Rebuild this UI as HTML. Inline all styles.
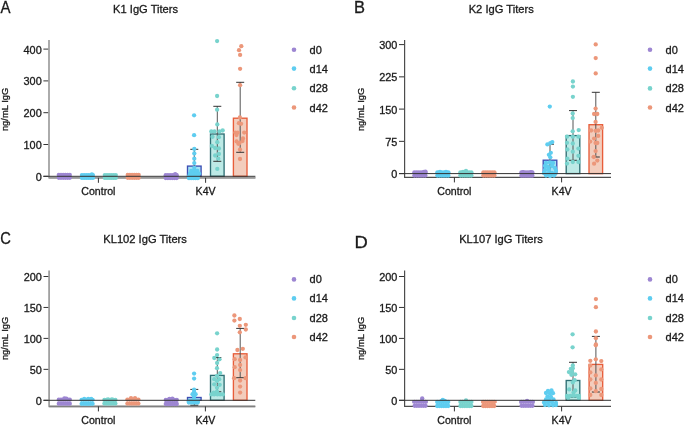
<!DOCTYPE html>
<html><head><meta charset="utf-8"><style>
html,body{margin:0;padding:0;background:#fff;width:685px;height:425px;overflow:hidden}
svg{display:block;font-family:"Liberation Sans", sans-serif;will-change:transform} text{stroke:#1a1a1a;stroke-width:0.3px}
</style></head><body>
<svg width="685" height="425" viewBox="0 0 685 425">
<text x="0.4" y="12.6" font-size="16" fill="#1a1a1a" transform="translate(0.4,12.6) scale(0.94,1) translate(-0.4,-12.6)">A</text>
<text x="145.6" y="13.1" font-size="11.15" text-anchor="middle" fill="#1a1a1a">K1 IgG Titers</text>
<text transform="translate(7.7,109.4) rotate(-90)" font-size="9.4" text-anchor="middle" fill="#1a1a1a">ng/mL IgG</text>
<line x1="43.4" y1="176.30" x2="49.0" y2="176.30" stroke="#333" stroke-width="1"/>
<text x="41.7" y="180.80" font-size="10.9" text-anchor="end" fill="#1a1a1a">0</text>
<line x1="43.4" y1="144.50" x2="49.0" y2="144.50" stroke="#333" stroke-width="1"/>
<text x="41.7" y="149.00" font-size="10.9" text-anchor="end" fill="#1a1a1a">100</text>
<line x1="43.4" y1="112.70" x2="49.0" y2="112.70" stroke="#333" stroke-width="1"/>
<text x="41.7" y="117.20" font-size="10.9" text-anchor="end" fill="#1a1a1a">200</text>
<line x1="43.4" y1="80.90" x2="49.0" y2="80.90" stroke="#333" stroke-width="1"/>
<text x="41.7" y="85.40" font-size="10.9" text-anchor="end" fill="#1a1a1a">300</text>
<line x1="43.4" y1="49.10" x2="49.0" y2="49.10" stroke="#333" stroke-width="1"/>
<text x="41.7" y="53.60" font-size="10.9" text-anchor="end" fill="#1a1a1a">400</text>
<path d="M49.0,40 L49.0,177.8 L255.4,177.8" fill="none" stroke="#a3a3a3" stroke-width="1.8" stroke-linejoin="round"/>
<line x1="49.0" y1="177.8" x2="255.4" y2="177.8" stroke="#999999" stroke-width="1.6"/>
<line x1="98.4" y1="177.8" x2="98.4" y2="182.8" stroke="#333" stroke-width="1"/>
<text x="98.4" y="195.0" font-size="10.6" text-anchor="middle" fill="#1a1a1a">Control</text>
<line x1="205.6" y1="177.8" x2="205.6" y2="182.8" stroke="#333" stroke-width="1"/>
<text x="205.6" y="195.0" font-size="10.6" text-anchor="middle" fill="#1a1a1a">K4V</text>
<rect x="187.5" y="166.1" width="13.6" height="10.200000000000017" fill="#a6e3f5" stroke="#3d4fb4" stroke-width="1.35"/>
<rect x="210.5" y="134.0" width="13.6" height="42.30000000000001" fill="#bdeae6" stroke="#2f6f74" stroke-width="1.35"/>
<rect x="233.39999999999998" y="118.2" width="13.6" height="58.10000000000001" fill="#f3cdbd" stroke="#e85d3a" stroke-width="1.35"/>
<line x1="194.3" y1="149.3" x2="194.3" y2="176.3" stroke="#555" stroke-width="1"/>
<line x1="190.3" y1="149.3" x2="198.3" y2="149.3" stroke="#333" stroke-width="1"/>
<line x1="217.3" y1="106.3" x2="217.3" y2="161.3" stroke="#555" stroke-width="1"/>
<line x1="213.3" y1="106.3" x2="221.3" y2="106.3" stroke="#333" stroke-width="1"/>
<line x1="213.3" y1="161.3" x2="221.3" y2="161.3" stroke="#333" stroke-width="1"/>
<line x1="240.2" y1="82.3" x2="240.2" y2="152.3" stroke="#555" stroke-width="1"/>
<line x1="236.2" y1="82.3" x2="244.2" y2="82.3" stroke="#333" stroke-width="1"/>
<line x1="236.2" y1="152.3" x2="244.2" y2="152.3" stroke="#333" stroke-width="1"/>
<circle cx="58.8" cy="175.0" r="2.15" fill="#9d86d2"/>
<circle cx="61.0" cy="175.0" r="2.15" fill="#9d86d2"/>
<circle cx="63.2" cy="175.0" r="2.15" fill="#9d86d2"/>
<circle cx="65.4" cy="175.0" r="2.15" fill="#9d86d2"/>
<circle cx="67.6" cy="175.0" r="2.15" fill="#9d86d2"/>
<circle cx="69.8" cy="175.0" r="2.15" fill="#9d86d2"/>
<circle cx="58.8" cy="177.8" r="2.15" fill="#9d86d2"/>
<circle cx="61.0" cy="177.8" r="2.15" fill="#9d86d2"/>
<circle cx="63.2" cy="177.8" r="2.15" fill="#9d86d2"/>
<circle cx="65.4" cy="177.8" r="2.15" fill="#9d86d2"/>
<circle cx="67.6" cy="177.8" r="2.15" fill="#9d86d2"/>
<circle cx="69.8" cy="177.8" r="2.15" fill="#9d86d2"/>
<circle cx="165.7" cy="175.2" r="2.15" fill="#9d86d2"/>
<circle cx="167.9" cy="175.2" r="2.15" fill="#9d86d2"/>
<circle cx="170.1" cy="175.2" r="2.15" fill="#9d86d2"/>
<circle cx="172.3" cy="175.2" r="2.15" fill="#9d86d2"/>
<circle cx="174.5" cy="175.2" r="2.15" fill="#9d86d2"/>
<circle cx="176.7" cy="175.2" r="2.15" fill="#9d86d2"/>
<circle cx="165.7" cy="178.0" r="2.15" fill="#9d86d2"/>
<circle cx="167.9" cy="178.0" r="2.15" fill="#9d86d2"/>
<circle cx="170.1" cy="178.0" r="2.15" fill="#9d86d2"/>
<circle cx="172.3" cy="178.0" r="2.15" fill="#9d86d2"/>
<circle cx="174.5" cy="178.0" r="2.15" fill="#9d86d2"/>
<circle cx="176.7" cy="178.0" r="2.15" fill="#9d86d2"/>
<circle cx="175.2" cy="174.1" r="2.15" fill="#9d86d2"/>
<circle cx="176.2" cy="175.1" r="2.15" fill="#9d86d2"/>
<circle cx="81.9" cy="175.1" r="2.15" fill="#5ecdf0"/>
<circle cx="84.1" cy="175.1" r="2.15" fill="#5ecdf0"/>
<circle cx="86.3" cy="175.1" r="2.15" fill="#5ecdf0"/>
<circle cx="88.5" cy="175.1" r="2.15" fill="#5ecdf0"/>
<circle cx="90.7" cy="175.1" r="2.15" fill="#5ecdf0"/>
<circle cx="92.9" cy="175.1" r="2.15" fill="#5ecdf0"/>
<circle cx="81.9" cy="177.9" r="2.15" fill="#5ecdf0"/>
<circle cx="84.1" cy="177.9" r="2.15" fill="#5ecdf0"/>
<circle cx="86.3" cy="177.9" r="2.15" fill="#5ecdf0"/>
<circle cx="88.5" cy="177.9" r="2.15" fill="#5ecdf0"/>
<circle cx="90.7" cy="177.9" r="2.15" fill="#5ecdf0"/>
<circle cx="92.9" cy="177.9" r="2.15" fill="#5ecdf0"/>
<circle cx="91.9" cy="174.5" r="2.15" fill="#5ecdf0"/>
<circle cx="194.1" cy="115.3" r="2.15" fill="#5ecdf0"/>
<circle cx="194.1" cy="135.2" r="2.15" fill="#5ecdf0"/>
<circle cx="194.3" cy="148.9" r="2.15" fill="#5ecdf0"/>
<circle cx="194.3" cy="153.5" r="2.15" fill="#5ecdf0"/>
<circle cx="194.3" cy="158.7" r="2.15" fill="#5ecdf0"/>
<circle cx="194.3" cy="163.1" r="2.15" fill="#5ecdf0"/>
<circle cx="194.3" cy="167.8" r="2.15" fill="#5ecdf0"/>
<circle cx="191.2" cy="171" r="2.15" fill="#5ecdf0"/>
<circle cx="194.3" cy="170.2" r="2.15" fill="#5ecdf0"/>
<circle cx="197.4" cy="171" r="2.15" fill="#5ecdf0"/>
<circle cx="190" cy="173.6" r="2.15" fill="#5ecdf0"/>
<circle cx="193" cy="173.2" r="2.15" fill="#5ecdf0"/>
<circle cx="196" cy="173.2" r="2.15" fill="#5ecdf0"/>
<circle cx="199" cy="173.6" r="2.15" fill="#5ecdf0"/>
<circle cx="189.0" cy="176.2" r="2.15" fill="#5ecdf0"/>
<circle cx="191.2" cy="176.2" r="2.15" fill="#5ecdf0"/>
<circle cx="193.4" cy="176.2" r="2.15" fill="#5ecdf0"/>
<circle cx="195.6" cy="176.2" r="2.15" fill="#5ecdf0"/>
<circle cx="197.8" cy="176.2" r="2.15" fill="#5ecdf0"/>
<circle cx="189.0" cy="178.2" r="2.15" fill="#5ecdf0"/>
<circle cx="191.2" cy="178.2" r="2.15" fill="#5ecdf0"/>
<circle cx="193.4" cy="178.2" r="2.15" fill="#5ecdf0"/>
<circle cx="195.6" cy="178.2" r="2.15" fill="#5ecdf0"/>
<circle cx="197.8" cy="178.2" r="2.15" fill="#5ecdf0"/>
<circle cx="104.8" cy="175.1" r="2.15" fill="#78d3cd"/>
<circle cx="107.0" cy="175.1" r="2.15" fill="#78d3cd"/>
<circle cx="109.2" cy="175.1" r="2.15" fill="#78d3cd"/>
<circle cx="111.4" cy="175.1" r="2.15" fill="#78d3cd"/>
<circle cx="113.6" cy="175.1" r="2.15" fill="#78d3cd"/>
<circle cx="115.8" cy="175.1" r="2.15" fill="#78d3cd"/>
<circle cx="104.8" cy="177.9" r="2.15" fill="#78d3cd"/>
<circle cx="107.0" cy="177.9" r="2.15" fill="#78d3cd"/>
<circle cx="109.2" cy="177.9" r="2.15" fill="#78d3cd"/>
<circle cx="111.4" cy="177.9" r="2.15" fill="#78d3cd"/>
<circle cx="113.6" cy="177.9" r="2.15" fill="#78d3cd"/>
<circle cx="115.8" cy="177.9" r="2.15" fill="#78d3cd"/>
<circle cx="217.1" cy="41.1" r="2.15" fill="#78d3cd"/>
<circle cx="217.1" cy="96" r="2.15" fill="#78d3cd"/>
<circle cx="217.1" cy="109.7" r="2.15" fill="#78d3cd"/>
<circle cx="217.3" cy="124.4" r="2.15" fill="#78d3cd"/>
<circle cx="211.3" cy="131.4" r="2.15" fill="#78d3cd"/>
<circle cx="214.5" cy="131.4" r="2.15" fill="#78d3cd"/>
<circle cx="219.5" cy="131.4" r="2.15" fill="#78d3cd"/>
<circle cx="222.7" cy="130.5" r="2.15" fill="#78d3cd"/>
<circle cx="212.5" cy="136.8" r="2.15" fill="#78d3cd"/>
<circle cx="218.9" cy="137.2" r="2.15" fill="#78d3cd"/>
<circle cx="217.3" cy="142.2" r="2.15" fill="#78d3cd"/>
<circle cx="211.9" cy="146" r="2.15" fill="#78d3cd"/>
<circle cx="215.1" cy="148" r="2.15" fill="#78d3cd"/>
<circle cx="218.9" cy="148.5" r="2.15" fill="#78d3cd"/>
<circle cx="215.1" cy="155.5" r="2.15" fill="#78d3cd"/>
<circle cx="218.9" cy="154" r="2.15" fill="#78d3cd"/>
<circle cx="218.3" cy="158.7" r="2.15" fill="#78d3cd"/>
<circle cx="217.3" cy="168.9" r="2.15" fill="#78d3cd"/>
<circle cx="127.7" cy="175.0" r="2.15" fill="#ec977a"/>
<circle cx="129.9" cy="175.0" r="2.15" fill="#ec977a"/>
<circle cx="132.1" cy="175.0" r="2.15" fill="#ec977a"/>
<circle cx="134.3" cy="175.0" r="2.15" fill="#ec977a"/>
<circle cx="136.5" cy="175.0" r="2.15" fill="#ec977a"/>
<circle cx="138.7" cy="175.0" r="2.15" fill="#ec977a"/>
<circle cx="127.7" cy="177.8" r="2.15" fill="#ec977a"/>
<circle cx="129.9" cy="177.8" r="2.15" fill="#ec977a"/>
<circle cx="132.1" cy="177.8" r="2.15" fill="#ec977a"/>
<circle cx="134.3" cy="177.8" r="2.15" fill="#ec977a"/>
<circle cx="136.5" cy="177.8" r="2.15" fill="#ec977a"/>
<circle cx="138.7" cy="177.8" r="2.15" fill="#ec977a"/>
<circle cx="241.3" cy="46.2" r="2.15" fill="#ec977a"/>
<circle cx="239" cy="50.2" r="2.15" fill="#ec977a"/>
<circle cx="240.1" cy="54.9" r="2.15" fill="#ec977a"/>
<circle cx="240.1" cy="68.8" r="2.15" fill="#ec977a"/>
<circle cx="240.1" cy="85.2" r="2.15" fill="#ec977a"/>
<circle cx="239.9" cy="117.5" r="2.15" fill="#ec977a"/>
<circle cx="238.9" cy="123.2" r="2.15" fill="#ec977a"/>
<circle cx="241.1" cy="123.8" r="2.15" fill="#ec977a"/>
<circle cx="235.4" cy="132.6" r="2.15" fill="#ec977a"/>
<circle cx="237.8" cy="132.6" r="2.15" fill="#ec977a"/>
<circle cx="244.2" cy="132.6" r="2.15" fill="#ec977a"/>
<circle cx="236.5" cy="135" r="2.15" fill="#ec977a"/>
<circle cx="243" cy="138.5" r="2.15" fill="#ec977a"/>
<circle cx="236.6" cy="141.4" r="2.15" fill="#ec977a"/>
<circle cx="239.5" cy="143" r="2.15" fill="#ec977a"/>
<circle cx="242.5" cy="141" r="2.15" fill="#ec977a"/>
<circle cx="238.4" cy="143.8" r="2.15" fill="#ec977a"/>
<circle cx="240" cy="149.6" r="2.15" fill="#ec977a"/>
<circle cx="240" cy="159" r="2.15" fill="#ec977a"/>
<line x1="43.4" y1="176.3" x2="255.4" y2="176.3" stroke="#333" stroke-width="1"/>
<circle cx="294" cy="49.7" r="2.3" fill="#9d86d2"/>
<text x="309.6" y="53.7" font-size="11" fill="#1a1a1a">d0</text>
<circle cx="294" cy="68.6" r="2.3" fill="#5ecdf0"/>
<text x="309.6" y="72.6" font-size="11" fill="#1a1a1a">d14</text>
<circle cx="294" cy="88.2" r="2.3" fill="#78d3cd"/>
<text x="309.6" y="92.2" font-size="11" fill="#1a1a1a">d28</text>
<circle cx="294" cy="107.5" r="2.3" fill="#ec977a"/>
<text x="309.6" y="111.5" font-size="11" fill="#1a1a1a">d42</text>
<text x="353.9" y="12.6" font-size="16" fill="#1a1a1a" transform="translate(353.9,12.6) scale(1.03,1) translate(-353.9,-12.6)">B</text>
<text x="501.2" y="13.3" font-size="11.15" text-anchor="middle" fill="#1a1a1a">K2 IgG Titers</text>
<text transform="translate(363.7,109.4) rotate(-90)" font-size="9.4" text-anchor="middle" fill="#1a1a1a">ng/mL IgG</text>
<line x1="399.0" y1="173.60" x2="404.6" y2="173.60" stroke="#333" stroke-width="1"/>
<text x="397.3" y="178.10" font-size="10.9" text-anchor="end" fill="#1a1a1a">0</text>
<line x1="399.0" y1="141.35" x2="404.6" y2="141.35" stroke="#333" stroke-width="1"/>
<text x="397.3" y="145.85" font-size="10.9" text-anchor="end" fill="#1a1a1a">75</text>
<line x1="399.0" y1="109.10" x2="404.6" y2="109.10" stroke="#333" stroke-width="1"/>
<text x="397.3" y="113.60" font-size="10.9" text-anchor="end" fill="#1a1a1a">150</text>
<line x1="399.0" y1="76.85" x2="404.6" y2="76.85" stroke="#333" stroke-width="1"/>
<text x="397.3" y="81.35" font-size="10.9" text-anchor="end" fill="#1a1a1a">225</text>
<line x1="399.0" y1="44.60" x2="404.6" y2="44.60" stroke="#333" stroke-width="1"/>
<text x="397.3" y="49.10" font-size="10.9" text-anchor="end" fill="#1a1a1a">300</text>
<path d="M404.6,40 L404.6,177.4 L611,177.4" fill="none" stroke="#4d4d4d" stroke-width="1.2" stroke-linejoin="round"/>
<line x1="454.4" y1="177.4" x2="454.4" y2="182.4" stroke="#333" stroke-width="1"/>
<text x="454.4" y="194.6" font-size="10.6" text-anchor="middle" fill="#1a1a1a">Control</text>
<line x1="561.6" y1="177.4" x2="561.6" y2="182.4" stroke="#333" stroke-width="1"/>
<text x="561.6" y="194.6" font-size="10.6" text-anchor="middle" fill="#1a1a1a">K4V</text>
<rect x="543.2" y="160.2" width="13.6" height="13.400000000000006" fill="#a6e3f5" stroke="#3d4fb4" stroke-width="1.35"/>
<rect x="566.2" y="135.6" width="13.6" height="38.0" fill="#bdeae6" stroke="#2f6f74" stroke-width="1.35"/>
<rect x="589.0" y="124.7" width="13.6" height="48.89999999999999" fill="#f3cdbd" stroke="#e85d3a" stroke-width="1.35"/>
<line x1="550.0" y1="144.2" x2="550.0" y2="175.3" stroke="#555" stroke-width="1"/>
<line x1="546.0" y1="144.2" x2="554.0" y2="144.2" stroke="#333" stroke-width="1"/>
<line x1="546.0" y1="175.3" x2="554.0" y2="175.3" stroke="#333" stroke-width="1"/>
<line x1="573.0" y1="110.6" x2="573.0" y2="160.3" stroke="#555" stroke-width="1"/>
<line x1="569.0" y1="110.6" x2="577.0" y2="110.6" stroke="#333" stroke-width="1"/>
<line x1="569.0" y1="160.3" x2="577.0" y2="160.3" stroke="#333" stroke-width="1"/>
<line x1="595.8" y1="92.3" x2="595.8" y2="157.0" stroke="#555" stroke-width="1"/>
<line x1="591.8" y1="92.3" x2="599.8" y2="92.3" stroke="#333" stroke-width="1"/>
<line x1="591.8" y1="157.0" x2="599.8" y2="157.0" stroke="#333" stroke-width="1"/>
<circle cx="414.4" cy="172.3" r="2.15" fill="#9d86d2"/>
<circle cx="416.6" cy="172.3" r="2.15" fill="#9d86d2"/>
<circle cx="418.8" cy="172.3" r="2.15" fill="#9d86d2"/>
<circle cx="421.0" cy="172.3" r="2.15" fill="#9d86d2"/>
<circle cx="423.2" cy="172.3" r="2.15" fill="#9d86d2"/>
<circle cx="425.4" cy="172.3" r="2.15" fill="#9d86d2"/>
<circle cx="414.4" cy="175.5" r="2.15" fill="#9d86d2"/>
<circle cx="416.6" cy="175.5" r="2.15" fill="#9d86d2"/>
<circle cx="418.8" cy="175.5" r="2.15" fill="#9d86d2"/>
<circle cx="421.0" cy="175.5" r="2.15" fill="#9d86d2"/>
<circle cx="423.2" cy="175.5" r="2.15" fill="#9d86d2"/>
<circle cx="425.4" cy="175.5" r="2.15" fill="#9d86d2"/>
<circle cx="424.0" cy="171.9" r="2.15" fill="#9d86d2"/>
<circle cx="425.5" cy="171.70000000000002" r="2.15" fill="#9d86d2"/>
<circle cx="521.4" cy="172.5" r="2.15" fill="#9d86d2"/>
<circle cx="523.6" cy="172.5" r="2.15" fill="#9d86d2"/>
<circle cx="525.8" cy="172.5" r="2.15" fill="#9d86d2"/>
<circle cx="528.0" cy="172.5" r="2.15" fill="#9d86d2"/>
<circle cx="530.2" cy="172.5" r="2.15" fill="#9d86d2"/>
<circle cx="532.4" cy="172.5" r="2.15" fill="#9d86d2"/>
<circle cx="521.4" cy="175.7" r="2.15" fill="#9d86d2"/>
<circle cx="523.6" cy="175.7" r="2.15" fill="#9d86d2"/>
<circle cx="525.8" cy="175.7" r="2.15" fill="#9d86d2"/>
<circle cx="528.0" cy="175.7" r="2.15" fill="#9d86d2"/>
<circle cx="530.2" cy="175.7" r="2.15" fill="#9d86d2"/>
<circle cx="532.4" cy="175.7" r="2.15" fill="#9d86d2"/>
<circle cx="523.0" cy="172.1" r="2.15" fill="#9d86d2"/>
<circle cx="531.0" cy="172.1" r="2.15" fill="#9d86d2"/>
<circle cx="437.4" cy="172.3" r="2.15" fill="#5ecdf0"/>
<circle cx="439.6" cy="172.3" r="2.15" fill="#5ecdf0"/>
<circle cx="441.8" cy="172.3" r="2.15" fill="#5ecdf0"/>
<circle cx="444.0" cy="172.3" r="2.15" fill="#5ecdf0"/>
<circle cx="446.2" cy="172.3" r="2.15" fill="#5ecdf0"/>
<circle cx="448.4" cy="172.3" r="2.15" fill="#5ecdf0"/>
<circle cx="437.4" cy="175.5" r="2.15" fill="#5ecdf0"/>
<circle cx="439.6" cy="175.5" r="2.15" fill="#5ecdf0"/>
<circle cx="441.8" cy="175.5" r="2.15" fill="#5ecdf0"/>
<circle cx="444.0" cy="175.5" r="2.15" fill="#5ecdf0"/>
<circle cx="446.2" cy="175.5" r="2.15" fill="#5ecdf0"/>
<circle cx="448.4" cy="175.5" r="2.15" fill="#5ecdf0"/>
<circle cx="440.0" cy="171.9" r="2.15" fill="#5ecdf0"/>
<circle cx="446.0" cy="171.9" r="2.15" fill="#5ecdf0"/>
<circle cx="549.8" cy="106.6" r="2.15" fill="#5ecdf0"/>
<circle cx="552.3" cy="142.1" r="2.15" fill="#5ecdf0"/>
<circle cx="550.3" cy="143.1" r="2.15" fill="#5ecdf0"/>
<circle cx="547.4" cy="144.4" r="2.15" fill="#5ecdf0"/>
<circle cx="550.8" cy="152.8" r="2.15" fill="#5ecdf0"/>
<circle cx="548.9" cy="154.8" r="2.15" fill="#5ecdf0"/>
<circle cx="550.3" cy="157.3" r="2.15" fill="#5ecdf0"/>
<circle cx="546" cy="163" r="2.15" fill="#5ecdf0"/>
<circle cx="550" cy="162.5" r="2.15" fill="#5ecdf0"/>
<circle cx="553" cy="163" r="2.15" fill="#5ecdf0"/>
<circle cx="545" cy="166" r="2.15" fill="#5ecdf0"/>
<circle cx="548" cy="167" r="2.15" fill="#5ecdf0"/>
<circle cx="552" cy="166" r="2.15" fill="#5ecdf0"/>
<circle cx="555" cy="168" r="2.15" fill="#5ecdf0"/>
<circle cx="545" cy="170" r="2.15" fill="#5ecdf0"/>
<circle cx="549" cy="170" r="2.15" fill="#5ecdf0"/>
<circle cx="556" cy="171" r="2.15" fill="#5ecdf0"/>
<circle cx="544" cy="173" r="2.15" fill="#5ecdf0"/>
<circle cx="548" cy="173.5" r="2.15" fill="#5ecdf0"/>
<circle cx="552" cy="173" r="2.15" fill="#5ecdf0"/>
<circle cx="555" cy="174" r="2.15" fill="#5ecdf0"/>
<circle cx="546" cy="175.5" r="2.15" fill="#5ecdf0"/>
<circle cx="550" cy="176" r="2.15" fill="#5ecdf0"/>
<circle cx="554" cy="175.5" r="2.15" fill="#5ecdf0"/>
<circle cx="460.4" cy="172.3" r="2.15" fill="#78d3cd"/>
<circle cx="462.6" cy="172.3" r="2.15" fill="#78d3cd"/>
<circle cx="464.8" cy="172.3" r="2.15" fill="#78d3cd"/>
<circle cx="467.0" cy="172.3" r="2.15" fill="#78d3cd"/>
<circle cx="469.2" cy="172.3" r="2.15" fill="#78d3cd"/>
<circle cx="471.4" cy="172.3" r="2.15" fill="#78d3cd"/>
<circle cx="460.4" cy="175.5" r="2.15" fill="#78d3cd"/>
<circle cx="462.6" cy="175.5" r="2.15" fill="#78d3cd"/>
<circle cx="464.8" cy="175.5" r="2.15" fill="#78d3cd"/>
<circle cx="467.0" cy="175.5" r="2.15" fill="#78d3cd"/>
<circle cx="469.2" cy="175.5" r="2.15" fill="#78d3cd"/>
<circle cx="471.4" cy="175.5" r="2.15" fill="#78d3cd"/>
<circle cx="466.0" cy="170.9" r="2.15" fill="#78d3cd"/>
<circle cx="463.0" cy="171.9" r="2.15" fill="#78d3cd"/>
<circle cx="572.9" cy="81.5" r="2.15" fill="#78d3cd"/>
<circle cx="572.9" cy="86.6" r="2.15" fill="#78d3cd"/>
<circle cx="572.9" cy="96.8" r="2.15" fill="#78d3cd"/>
<circle cx="572.7" cy="113.5" r="2.15" fill="#78d3cd"/>
<circle cx="572.7" cy="118.1" r="2.15" fill="#78d3cd"/>
<circle cx="572.7" cy="131.3" r="2.15" fill="#78d3cd"/>
<circle cx="578.7" cy="130.1" r="2.15" fill="#78d3cd"/>
<circle cx="567" cy="136.7" r="2.15" fill="#78d3cd"/>
<circle cx="572.8" cy="136.7" r="2.15" fill="#78d3cd"/>
<circle cx="578.4" cy="136.7" r="2.15" fill="#78d3cd"/>
<circle cx="567" cy="142.8" r="2.15" fill="#78d3cd"/>
<circle cx="572.8" cy="143.5" r="2.15" fill="#78d3cd"/>
<circle cx="567.4" cy="149.5" r="2.15" fill="#78d3cd"/>
<circle cx="578.4" cy="148.6" r="2.15" fill="#78d3cd"/>
<circle cx="572.8" cy="151.7" r="2.15" fill="#78d3cd"/>
<circle cx="578.4" cy="155.8" r="2.15" fill="#78d3cd"/>
<circle cx="567.4" cy="158.7" r="2.15" fill="#78d3cd"/>
<circle cx="567" cy="163.6" r="2.15" fill="#78d3cd"/>
<circle cx="572.8" cy="162" r="2.15" fill="#78d3cd"/>
<circle cx="578.4" cy="162" r="2.15" fill="#78d3cd"/>
<circle cx="483.4" cy="172.3" r="2.15" fill="#ec977a"/>
<circle cx="485.6" cy="172.3" r="2.15" fill="#ec977a"/>
<circle cx="487.8" cy="172.3" r="2.15" fill="#ec977a"/>
<circle cx="490.0" cy="172.3" r="2.15" fill="#ec977a"/>
<circle cx="492.2" cy="172.3" r="2.15" fill="#ec977a"/>
<circle cx="494.4" cy="172.3" r="2.15" fill="#ec977a"/>
<circle cx="483.4" cy="175.5" r="2.15" fill="#ec977a"/>
<circle cx="485.6" cy="175.5" r="2.15" fill="#ec977a"/>
<circle cx="487.8" cy="175.5" r="2.15" fill="#ec977a"/>
<circle cx="490.0" cy="175.5" r="2.15" fill="#ec977a"/>
<circle cx="492.2" cy="175.5" r="2.15" fill="#ec977a"/>
<circle cx="494.4" cy="175.5" r="2.15" fill="#ec977a"/>
<circle cx="595.7" cy="44.4" r="2.15" fill="#ec977a"/>
<circle cx="595.7" cy="58.1" r="2.15" fill="#ec977a"/>
<circle cx="595.7" cy="73.4" r="2.15" fill="#ec977a"/>
<circle cx="595.6" cy="108.6" r="2.15" fill="#ec977a"/>
<circle cx="594.1" cy="114" r="2.15" fill="#ec977a"/>
<circle cx="597.3" cy="114" r="2.15" fill="#ec977a"/>
<circle cx="595.6" cy="121.9" r="2.15" fill="#ec977a"/>
<circle cx="591.1" cy="130.5" r="2.15" fill="#ec977a"/>
<circle cx="595.6" cy="130.8" r="2.15" fill="#ec977a"/>
<circle cx="598.2" cy="130.5" r="2.15" fill="#ec977a"/>
<circle cx="601.8" cy="127.8" r="2.15" fill="#ec977a"/>
<circle cx="598.2" cy="135.9" r="2.15" fill="#ec977a"/>
<circle cx="594.1" cy="138.6" r="2.15" fill="#ec977a"/>
<circle cx="590.2" cy="141.6" r="2.15" fill="#ec977a"/>
<circle cx="595.6" cy="143" r="2.15" fill="#ec977a"/>
<circle cx="597.3" cy="143" r="2.15" fill="#ec977a"/>
<circle cx="595.6" cy="151.1" r="2.15" fill="#ec977a"/>
<circle cx="593.8" cy="157" r="2.15" fill="#ec977a"/>
<circle cx="597.3" cy="160.6" r="2.15" fill="#ec977a"/>
<circle cx="594.1" cy="163.7" r="2.15" fill="#ec977a"/>
<line x1="399.0" y1="173.6" x2="611" y2="173.6" stroke="#333" stroke-width="1"/>
<circle cx="650" cy="49.7" r="2.3" fill="#9d86d2"/>
<text x="665.6" y="53.7" font-size="11" fill="#1a1a1a">d0</text>
<circle cx="650" cy="68.6" r="2.3" fill="#5ecdf0"/>
<text x="665.6" y="72.6" font-size="11" fill="#1a1a1a">d14</text>
<circle cx="650" cy="88.4" r="2.3" fill="#78d3cd"/>
<text x="665.6" y="92.4" font-size="11" fill="#1a1a1a">d28</text>
<circle cx="650" cy="107.5" r="2.3" fill="#ec977a"/>
<text x="665.6" y="111.5" font-size="11" fill="#1a1a1a">d42</text>
<text x="0.3" y="243.6" font-size="16" fill="#1a1a1a" transform="translate(0.3,243.6) scale(0.92,1) translate(-0.3,-243.6)">C</text>
<text x="145.1" y="242.9" font-size="11.15" text-anchor="middle" fill="#1a1a1a">KL102 IgG Titers</text>
<text transform="translate(7.7,338.4) rotate(-90)" font-size="9.4" text-anchor="middle" fill="#1a1a1a">ng/mL IgG</text>
<line x1="43.5" y1="400.30" x2="49.1" y2="400.30" stroke="#333" stroke-width="1"/>
<text x="41.800000000000004" y="404.80" font-size="10.9" text-anchor="end" fill="#1a1a1a">0</text>
<line x1="43.5" y1="369.35" x2="49.1" y2="369.35" stroke="#333" stroke-width="1"/>
<text x="41.800000000000004" y="373.85" font-size="10.9" text-anchor="end" fill="#1a1a1a">50</text>
<line x1="43.5" y1="338.40" x2="49.1" y2="338.40" stroke="#333" stroke-width="1"/>
<text x="41.800000000000004" y="342.90" font-size="10.9" text-anchor="end" fill="#1a1a1a">100</text>
<line x1="43.5" y1="307.45" x2="49.1" y2="307.45" stroke="#333" stroke-width="1"/>
<text x="41.800000000000004" y="311.95" font-size="10.9" text-anchor="end" fill="#1a1a1a">150</text>
<line x1="43.5" y1="276.50" x2="49.1" y2="276.50" stroke="#333" stroke-width="1"/>
<text x="41.800000000000004" y="281.00" font-size="10.9" text-anchor="end" fill="#1a1a1a">200</text>
<path d="M49.1,270.6 L49.1,406.4 L255.3,406.4" fill="none" stroke="#a0a0a0" stroke-width="1.8" stroke-linejoin="round"/>
<line x1="49.1" y1="406.4" x2="255.3" y2="406.4" stroke="#808080" stroke-width="1.5"/>
<line x1="98.4" y1="406.4" x2="98.4" y2="411.4" stroke="#333" stroke-width="1"/>
<text x="98.4" y="423.59999999999997" font-size="10.6" text-anchor="middle" fill="#1a1a1a">Control</text>
<line x1="205.4" y1="406.4" x2="205.4" y2="411.4" stroke="#333" stroke-width="1"/>
<text x="205.4" y="423.59999999999997" font-size="10.6" text-anchor="middle" fill="#1a1a1a">K4V</text>
<rect x="187.5" y="397.5" width="13.6" height="2.8000000000000114" fill="#a6e3f5" stroke="#3d4fb4" stroke-width="1.35"/>
<rect x="210.5" y="375.4" width="13.6" height="24.900000000000034" fill="#bdeae6" stroke="#2f6f74" stroke-width="1.35"/>
<rect x="233.39999999999998" y="353.8" width="13.6" height="46.5" fill="#f3cdbd" stroke="#e85d3a" stroke-width="1.35"/>
<line x1="194.3" y1="389.4" x2="194.3" y2="405.2" stroke="#555" stroke-width="1"/>
<line x1="190.3" y1="389.4" x2="198.3" y2="389.4" stroke="#333" stroke-width="1"/>
<line x1="190.3" y1="405.2" x2="198.3" y2="405.2" stroke="#333" stroke-width="1"/>
<line x1="217.3" y1="357.5" x2="217.3" y2="391.8" stroke="#555" stroke-width="1"/>
<line x1="213.3" y1="357.5" x2="221.3" y2="357.5" stroke="#333" stroke-width="1"/>
<line x1="213.3" y1="391.8" x2="221.3" y2="391.8" stroke="#333" stroke-width="1"/>
<line x1="240.2" y1="328.4" x2="240.2" y2="377.7" stroke="#555" stroke-width="1"/>
<line x1="236.2" y1="328.4" x2="244.2" y2="328.4" stroke="#333" stroke-width="1"/>
<line x1="236.2" y1="377.7" x2="244.2" y2="377.7" stroke="#333" stroke-width="1"/>
<circle cx="58.8" cy="399.7" r="2.15" fill="#9d86d2"/>
<circle cx="61.0" cy="399.7" r="2.15" fill="#9d86d2"/>
<circle cx="63.2" cy="399.7" r="2.15" fill="#9d86d2"/>
<circle cx="65.4" cy="399.7" r="2.15" fill="#9d86d2"/>
<circle cx="67.6" cy="399.7" r="2.15" fill="#9d86d2"/>
<circle cx="69.8" cy="399.7" r="2.15" fill="#9d86d2"/>
<circle cx="58.8" cy="403.7" r="2.15" fill="#9d86d2"/>
<circle cx="61.0" cy="403.7" r="2.15" fill="#9d86d2"/>
<circle cx="63.2" cy="403.7" r="2.15" fill="#9d86d2"/>
<circle cx="65.4" cy="403.7" r="2.15" fill="#9d86d2"/>
<circle cx="67.6" cy="403.7" r="2.15" fill="#9d86d2"/>
<circle cx="69.8" cy="403.7" r="2.15" fill="#9d86d2"/>
<circle cx="64.4" cy="398.5" r="2.15" fill="#9d86d2"/>
<circle cx="66.4" cy="398.7" r="2.15" fill="#9d86d2"/>
<circle cx="165.8" cy="400.0" r="2.15" fill="#9d86d2"/>
<circle cx="168.0" cy="400.0" r="2.15" fill="#9d86d2"/>
<circle cx="170.2" cy="400.0" r="2.15" fill="#9d86d2"/>
<circle cx="172.4" cy="400.0" r="2.15" fill="#9d86d2"/>
<circle cx="174.6" cy="400.0" r="2.15" fill="#9d86d2"/>
<circle cx="176.8" cy="400.0" r="2.15" fill="#9d86d2"/>
<circle cx="165.8" cy="404.0" r="2.15" fill="#9d86d2"/>
<circle cx="168.0" cy="404.0" r="2.15" fill="#9d86d2"/>
<circle cx="170.2" cy="404.0" r="2.15" fill="#9d86d2"/>
<circle cx="172.4" cy="404.0" r="2.15" fill="#9d86d2"/>
<circle cx="174.6" cy="404.0" r="2.15" fill="#9d86d2"/>
<circle cx="176.8" cy="404.0" r="2.15" fill="#9d86d2"/>
<circle cx="169.4" cy="399.0" r="2.15" fill="#9d86d2"/>
<circle cx="172.4" cy="398.7" r="2.15" fill="#9d86d2"/>
<circle cx="81.6" cy="399.8" r="2.15" fill="#5ecdf0"/>
<circle cx="83.8" cy="399.8" r="2.15" fill="#5ecdf0"/>
<circle cx="86.0" cy="399.8" r="2.15" fill="#5ecdf0"/>
<circle cx="88.2" cy="399.8" r="2.15" fill="#5ecdf0"/>
<circle cx="90.4" cy="399.8" r="2.15" fill="#5ecdf0"/>
<circle cx="92.6" cy="399.8" r="2.15" fill="#5ecdf0"/>
<circle cx="81.6" cy="403.8" r="2.15" fill="#5ecdf0"/>
<circle cx="83.8" cy="403.8" r="2.15" fill="#5ecdf0"/>
<circle cx="86.0" cy="403.8" r="2.15" fill="#5ecdf0"/>
<circle cx="88.2" cy="403.8" r="2.15" fill="#5ecdf0"/>
<circle cx="90.4" cy="403.8" r="2.15" fill="#5ecdf0"/>
<circle cx="92.6" cy="403.8" r="2.15" fill="#5ecdf0"/>
<circle cx="84.2" cy="399.0" r="2.15" fill="#5ecdf0"/>
<circle cx="88.2" cy="398.8" r="2.15" fill="#5ecdf0"/>
<circle cx="91.2" cy="399.0" r="2.15" fill="#5ecdf0"/>
<circle cx="194.1" cy="373.6" r="2.15" fill="#5ecdf0"/>
<circle cx="194.1" cy="378.6" r="2.15" fill="#5ecdf0"/>
<circle cx="194.1" cy="389.6" r="2.15" fill="#5ecdf0"/>
<circle cx="194.1" cy="392" r="2.15" fill="#5ecdf0"/>
<circle cx="192.5" cy="394.2" r="2.15" fill="#5ecdf0"/>
<circle cx="195.6" cy="394.2" r="2.15" fill="#5ecdf0"/>
<circle cx="194.1" cy="396.3" r="2.15" fill="#5ecdf0"/>
<circle cx="194.1" cy="398.6" r="2.15" fill="#5ecdf0"/>
<circle cx="188.9" cy="401.3" r="2.15" fill="#5ecdf0"/>
<circle cx="191.1" cy="401.3" r="2.15" fill="#5ecdf0"/>
<circle cx="193.3" cy="401.3" r="2.15" fill="#5ecdf0"/>
<circle cx="195.5" cy="401.3" r="2.15" fill="#5ecdf0"/>
<circle cx="197.7" cy="401.3" r="2.15" fill="#5ecdf0"/>
<circle cx="188.9" cy="402.5" r="2.15" fill="#5ecdf0"/>
<circle cx="191.1" cy="402.5" r="2.15" fill="#5ecdf0"/>
<circle cx="193.3" cy="402.5" r="2.15" fill="#5ecdf0"/>
<circle cx="195.5" cy="402.5" r="2.15" fill="#5ecdf0"/>
<circle cx="197.7" cy="402.5" r="2.15" fill="#5ecdf0"/>
<circle cx="104.4" cy="400.0" r="2.15" fill="#78d3cd"/>
<circle cx="106.6" cy="400.0" r="2.15" fill="#78d3cd"/>
<circle cx="108.8" cy="400.0" r="2.15" fill="#78d3cd"/>
<circle cx="111.0" cy="400.0" r="2.15" fill="#78d3cd"/>
<circle cx="113.2" cy="400.0" r="2.15" fill="#78d3cd"/>
<circle cx="115.4" cy="400.0" r="2.15" fill="#78d3cd"/>
<circle cx="104.4" cy="403.6" r="2.15" fill="#78d3cd"/>
<circle cx="106.6" cy="403.6" r="2.15" fill="#78d3cd"/>
<circle cx="108.8" cy="403.6" r="2.15" fill="#78d3cd"/>
<circle cx="111.0" cy="403.6" r="2.15" fill="#78d3cd"/>
<circle cx="113.2" cy="403.6" r="2.15" fill="#78d3cd"/>
<circle cx="115.4" cy="403.6" r="2.15" fill="#78d3cd"/>
<circle cx="108.0" cy="399.3" r="2.15" fill="#78d3cd"/>
<circle cx="112.0" cy="399.3" r="2.15" fill="#78d3cd"/>
<circle cx="217.1" cy="333.3" r="2.15" fill="#78d3cd"/>
<circle cx="217.1" cy="349.5" r="2.15" fill="#78d3cd"/>
<circle cx="217.1" cy="355.1" r="2.15" fill="#78d3cd"/>
<circle cx="214.3" cy="358" r="2.15" fill="#78d3cd"/>
<circle cx="219.5" cy="359.3" r="2.15" fill="#78d3cd"/>
<circle cx="217.1" cy="363" r="2.15" fill="#78d3cd"/>
<circle cx="217" cy="368.2" r="2.15" fill="#78d3cd"/>
<circle cx="220.2" cy="373.1" r="2.15" fill="#78d3cd"/>
<circle cx="217" cy="375.8" r="2.15" fill="#78d3cd"/>
<circle cx="214.2" cy="379.2" r="2.15" fill="#78d3cd"/>
<circle cx="219.2" cy="379.2" r="2.15" fill="#78d3cd"/>
<circle cx="217" cy="381.1" r="2.15" fill="#78d3cd"/>
<circle cx="214.2" cy="384.3" r="2.15" fill="#78d3cd"/>
<circle cx="219.7" cy="384.8" r="2.15" fill="#78d3cd"/>
<circle cx="217" cy="387.8" r="2.15" fill="#78d3cd"/>
<circle cx="213.7" cy="392.6" r="2.15" fill="#78d3cd"/>
<circle cx="217" cy="391.7" r="2.15" fill="#78d3cd"/>
<circle cx="211.4" cy="394.4" r="2.15" fill="#78d3cd"/>
<circle cx="214.2" cy="394.4" r="2.15" fill="#78d3cd"/>
<circle cx="217.4" cy="394.4" r="2.15" fill="#78d3cd"/>
<circle cx="220.2" cy="394.4" r="2.15" fill="#78d3cd"/>
<circle cx="222.9" cy="394.4" r="2.15" fill="#78d3cd"/>
<circle cx="127.4" cy="399.6" r="2.15" fill="#ec977a"/>
<circle cx="129.6" cy="399.6" r="2.15" fill="#ec977a"/>
<circle cx="131.8" cy="399.6" r="2.15" fill="#ec977a"/>
<circle cx="134.0" cy="399.6" r="2.15" fill="#ec977a"/>
<circle cx="136.2" cy="399.6" r="2.15" fill="#ec977a"/>
<circle cx="138.4" cy="399.6" r="2.15" fill="#ec977a"/>
<circle cx="127.4" cy="403.6" r="2.15" fill="#ec977a"/>
<circle cx="129.6" cy="403.6" r="2.15" fill="#ec977a"/>
<circle cx="131.8" cy="403.6" r="2.15" fill="#ec977a"/>
<circle cx="134.0" cy="403.6" r="2.15" fill="#ec977a"/>
<circle cx="136.2" cy="403.6" r="2.15" fill="#ec977a"/>
<circle cx="138.4" cy="403.6" r="2.15" fill="#ec977a"/>
<circle cx="131.0" cy="398.20000000000005" r="2.15" fill="#ec977a"/>
<circle cx="135.0" cy="398.20000000000005" r="2.15" fill="#ec977a"/>
<circle cx="234.4" cy="315.5" r="2.15" fill="#ec977a"/>
<circle cx="234.4" cy="320.6" r="2.15" fill="#ec977a"/>
<circle cx="239.8" cy="319" r="2.15" fill="#ec977a"/>
<circle cx="239.8" cy="325.8" r="2.15" fill="#ec977a"/>
<circle cx="245.8" cy="324.8" r="2.15" fill="#ec977a"/>
<circle cx="245.8" cy="329.5" r="2.15" fill="#ec977a"/>
<circle cx="239.8" cy="332.3" r="2.15" fill="#ec977a"/>
<circle cx="237.4" cy="350" r="2.15" fill="#ec977a"/>
<circle cx="242.8" cy="348.8" r="2.15" fill="#ec977a"/>
<circle cx="234.7" cy="359.2" r="2.15" fill="#ec977a"/>
<circle cx="240.1" cy="359.9" r="2.15" fill="#ec977a"/>
<circle cx="245.5" cy="357.4" r="2.15" fill="#ec977a"/>
<circle cx="240.1" cy="365" r="2.15" fill="#ec977a"/>
<circle cx="234.7" cy="367.2" r="2.15" fill="#ec977a"/>
<circle cx="240.1" cy="370.1" r="2.15" fill="#ec977a"/>
<circle cx="234.1" cy="378.2" r="2.15" fill="#ec977a"/>
<circle cx="245.5" cy="378.2" r="2.15" fill="#ec977a"/>
<circle cx="240.1" cy="380.5" r="2.15" fill="#ec977a"/>
<circle cx="240.1" cy="386.6" r="2.15" fill="#ec977a"/>
<circle cx="240.1" cy="392.6" r="2.15" fill="#ec977a"/>
<line x1="43.5" y1="400.3" x2="255.3" y2="400.3" stroke="#333" stroke-width="1"/>
<circle cx="294" cy="279.4" r="2.3" fill="#9d86d2"/>
<text x="309.6" y="283.4" font-size="11" fill="#1a1a1a">d0</text>
<circle cx="294" cy="298.4" r="2.3" fill="#5ecdf0"/>
<text x="309.6" y="302.4" font-size="11" fill="#1a1a1a">d14</text>
<circle cx="294" cy="318" r="2.3" fill="#78d3cd"/>
<text x="309.6" y="322" font-size="11" fill="#1a1a1a">d28</text>
<circle cx="294" cy="337" r="2.3" fill="#ec977a"/>
<text x="309.6" y="341" font-size="11" fill="#1a1a1a">d42</text>
<text x="354.4" y="248.1" font-size="16" fill="#1a1a1a" transform="translate(354.4,248.1) scale(1.15,1) translate(-354.4,-248.1)">D</text>
<text x="501.0" y="242.9" font-size="11.15" text-anchor="middle" fill="#1a1a1a">KL107 IgG Titers</text>
<text transform="translate(363.7,338.4) rotate(-90)" font-size="9.4" text-anchor="middle" fill="#1a1a1a">ng/mL IgG</text>
<line x1="399.0" y1="400.30" x2="404.6" y2="400.30" stroke="#333" stroke-width="1"/>
<text x="397.3" y="404.80" font-size="10.9" text-anchor="end" fill="#1a1a1a">0</text>
<line x1="399.0" y1="369.35" x2="404.6" y2="369.35" stroke="#333" stroke-width="1"/>
<text x="397.3" y="373.85" font-size="10.9" text-anchor="end" fill="#1a1a1a">50</text>
<line x1="399.0" y1="338.40" x2="404.6" y2="338.40" stroke="#333" stroke-width="1"/>
<text x="397.3" y="342.90" font-size="10.9" text-anchor="end" fill="#1a1a1a">100</text>
<line x1="399.0" y1="307.45" x2="404.6" y2="307.45" stroke="#333" stroke-width="1"/>
<text x="397.3" y="311.95" font-size="10.9" text-anchor="end" fill="#1a1a1a">150</text>
<line x1="399.0" y1="276.50" x2="404.6" y2="276.50" stroke="#333" stroke-width="1"/>
<text x="397.3" y="281.00" font-size="10.9" text-anchor="end" fill="#1a1a1a">200</text>
<path d="M404.6,270.6 L404.6,406.4 L611,406.4" fill="none" stroke="#4d4d4d" stroke-width="1.2" stroke-linejoin="round"/>
<line x1="454.4" y1="406.4" x2="454.4" y2="411.4" stroke="#333" stroke-width="1"/>
<text x="454.4" y="423.59999999999997" font-size="10.6" text-anchor="middle" fill="#1a1a1a">Control</text>
<line x1="561.6" y1="406.4" x2="561.6" y2="411.4" stroke="#333" stroke-width="1"/>
<text x="561.6" y="423.59999999999997" font-size="10.6" text-anchor="middle" fill="#1a1a1a">K4V</text>
<path d="M413.2,400.3 V403.2 M426.8,400.3 V403.2" fill="none" stroke="#5a3f9e" stroke-width="1.3"/>
<path d="M482.2,400.3 V403.0 M495.8,400.3 V403.0" fill="none" stroke="#e85d3a" stroke-width="1.3"/>
<path d="M520.2,400.3 V403.5 M533.8,400.3 V403.5" fill="none" stroke="#5a3f9e" stroke-width="1.3"/>
<rect x="566.2" y="380.5" width="13.6" height="19.80000000000001" fill="#bdeae6" stroke="#2f6f74" stroke-width="1.35"/>
<rect x="589.1" y="364.4" width="13.6" height="35.900000000000034" fill="#f3cdbd" stroke="#e85d3a" stroke-width="1.35"/>
<line x1="573.0" y1="362.3" x2="573.0" y2="397.2" stroke="#555" stroke-width="1"/>
<line x1="569.0" y1="362.3" x2="577.0" y2="362.3" stroke="#333" stroke-width="1"/>
<line x1="569.0" y1="397.2" x2="577.0" y2="397.2" stroke="#333" stroke-width="1"/>
<line x1="595.9" y1="336.4" x2="595.9" y2="392.0" stroke="#555" stroke-width="1"/>
<line x1="591.9" y1="336.4" x2="599.9" y2="336.4" stroke="#333" stroke-width="1"/>
<line x1="591.9" y1="392.0" x2="599.9" y2="392.0" stroke="#333" stroke-width="1"/>
<circle cx="414.6" cy="401.8" r="2.15" fill="#9d86d2"/>
<circle cx="416.8" cy="401.8" r="2.15" fill="#9d86d2"/>
<circle cx="419.0" cy="401.8" r="2.15" fill="#9d86d2"/>
<circle cx="421.2" cy="401.8" r="2.15" fill="#9d86d2"/>
<circle cx="423.4" cy="401.8" r="2.15" fill="#9d86d2"/>
<circle cx="425.6" cy="401.8" r="2.15" fill="#9d86d2"/>
<circle cx="414.6" cy="405.8" r="2.15" fill="#9d86d2"/>
<circle cx="416.8" cy="405.8" r="2.15" fill="#9d86d2"/>
<circle cx="419.0" cy="405.8" r="2.15" fill="#9d86d2"/>
<circle cx="421.2" cy="405.8" r="2.15" fill="#9d86d2"/>
<circle cx="423.4" cy="405.8" r="2.15" fill="#9d86d2"/>
<circle cx="425.6" cy="405.8" r="2.15" fill="#9d86d2"/>
<circle cx="422.2" cy="398.3" r="2.15" fill="#9d86d2"/>
<circle cx="422.2" cy="400.3" r="2.15" fill="#9d86d2"/>
<circle cx="521.5" cy="401.8" r="2.15" fill="#9d86d2"/>
<circle cx="523.7" cy="401.8" r="2.15" fill="#9d86d2"/>
<circle cx="525.9" cy="401.8" r="2.15" fill="#9d86d2"/>
<circle cx="528.1" cy="401.8" r="2.15" fill="#9d86d2"/>
<circle cx="530.3" cy="401.8" r="2.15" fill="#9d86d2"/>
<circle cx="532.5" cy="401.8" r="2.15" fill="#9d86d2"/>
<circle cx="521.5" cy="405.8" r="2.15" fill="#9d86d2"/>
<circle cx="523.7" cy="405.8" r="2.15" fill="#9d86d2"/>
<circle cx="525.9" cy="405.8" r="2.15" fill="#9d86d2"/>
<circle cx="528.1" cy="405.8" r="2.15" fill="#9d86d2"/>
<circle cx="530.3" cy="405.8" r="2.15" fill="#9d86d2"/>
<circle cx="532.5" cy="405.8" r="2.15" fill="#9d86d2"/>
<circle cx="527.1" cy="400.8" r="2.15" fill="#9d86d2"/>
<circle cx="437.2" cy="402.0" r="2.15" fill="#5ecdf0"/>
<circle cx="439.4" cy="402.0" r="2.15" fill="#5ecdf0"/>
<circle cx="441.6" cy="402.0" r="2.15" fill="#5ecdf0"/>
<circle cx="443.8" cy="402.0" r="2.15" fill="#5ecdf0"/>
<circle cx="446.0" cy="402.0" r="2.15" fill="#5ecdf0"/>
<circle cx="448.2" cy="402.0" r="2.15" fill="#5ecdf0"/>
<circle cx="437.2" cy="406.0" r="2.15" fill="#5ecdf0"/>
<circle cx="439.4" cy="406.0" r="2.15" fill="#5ecdf0"/>
<circle cx="441.6" cy="406.0" r="2.15" fill="#5ecdf0"/>
<circle cx="443.8" cy="406.0" r="2.15" fill="#5ecdf0"/>
<circle cx="446.0" cy="406.0" r="2.15" fill="#5ecdf0"/>
<circle cx="448.2" cy="406.0" r="2.15" fill="#5ecdf0"/>
<circle cx="442.8" cy="400.0" r="2.15" fill="#5ecdf0"/>
<circle cx="441.8" cy="401.0" r="2.15" fill="#5ecdf0"/>
<circle cx="444.8" cy="401.0" r="2.15" fill="#5ecdf0"/>
<circle cx="548" cy="390.8" r="2.15" fill="#5ecdf0"/>
<circle cx="551.5" cy="390.5" r="2.15" fill="#5ecdf0"/>
<circle cx="546" cy="393" r="2.15" fill="#5ecdf0"/>
<circle cx="550" cy="393.5" r="2.15" fill="#5ecdf0"/>
<circle cx="553" cy="393.2" r="2.15" fill="#5ecdf0"/>
<circle cx="547.5" cy="396.5" r="2.15" fill="#5ecdf0"/>
<circle cx="551" cy="397" r="2.15" fill="#5ecdf0"/>
<circle cx="546" cy="399.5" r="2.15" fill="#5ecdf0"/>
<circle cx="549.5" cy="400" r="2.15" fill="#5ecdf0"/>
<circle cx="553.5" cy="399.5" r="2.15" fill="#5ecdf0"/>
<circle cx="544" cy="402.5" r="2.15" fill="#5ecdf0"/>
<circle cx="548" cy="402.5" r="2.15" fill="#5ecdf0"/>
<circle cx="552" cy="402.5" r="2.15" fill="#5ecdf0"/>
<circle cx="556" cy="403" r="2.15" fill="#5ecdf0"/>
<circle cx="545" cy="405" r="2.15" fill="#5ecdf0"/>
<circle cx="549" cy="405.3" r="2.15" fill="#5ecdf0"/>
<circle cx="553" cy="405.3" r="2.15" fill="#5ecdf0"/>
<circle cx="556" cy="405" r="2.15" fill="#5ecdf0"/>
<circle cx="460.4" cy="402.0" r="2.15" fill="#78d3cd"/>
<circle cx="462.6" cy="402.0" r="2.15" fill="#78d3cd"/>
<circle cx="464.8" cy="402.0" r="2.15" fill="#78d3cd"/>
<circle cx="467.0" cy="402.0" r="2.15" fill="#78d3cd"/>
<circle cx="469.2" cy="402.0" r="2.15" fill="#78d3cd"/>
<circle cx="471.4" cy="402.0" r="2.15" fill="#78d3cd"/>
<circle cx="460.4" cy="406.0" r="2.15" fill="#78d3cd"/>
<circle cx="462.6" cy="406.0" r="2.15" fill="#78d3cd"/>
<circle cx="464.8" cy="406.0" r="2.15" fill="#78d3cd"/>
<circle cx="467.0" cy="406.0" r="2.15" fill="#78d3cd"/>
<circle cx="469.2" cy="406.0" r="2.15" fill="#78d3cd"/>
<circle cx="471.4" cy="406.0" r="2.15" fill="#78d3cd"/>
<circle cx="466.0" cy="400.4" r="2.15" fill="#78d3cd"/>
<circle cx="572.6" cy="334.3" r="2.15" fill="#78d3cd"/>
<circle cx="572.6" cy="347.3" r="2.15" fill="#78d3cd"/>
<circle cx="572.8" cy="365.4" r="2.15" fill="#78d3cd"/>
<circle cx="570.8" cy="368.8" r="2.15" fill="#78d3cd"/>
<circle cx="572.8" cy="368.3" r="2.15" fill="#78d3cd"/>
<circle cx="568.9" cy="372.1" r="2.15" fill="#78d3cd"/>
<circle cx="572.1" cy="371.9" r="2.15" fill="#78d3cd"/>
<circle cx="575.2" cy="374.3" r="2.15" fill="#78d3cd"/>
<circle cx="571.4" cy="374.8" r="2.15" fill="#78d3cd"/>
<circle cx="574.6" cy="380.2" r="2.15" fill="#78d3cd"/>
<circle cx="572.8" cy="382.4" r="2.15" fill="#78d3cd"/>
<circle cx="569.2" cy="389.4" r="2.15" fill="#78d3cd"/>
<circle cx="575.2" cy="390.5" r="2.15" fill="#78d3cd"/>
<circle cx="573.5" cy="392.7" r="2.15" fill="#78d3cd"/>
<circle cx="567" cy="395.9" r="2.15" fill="#78d3cd"/>
<circle cx="570.3" cy="395.9" r="2.15" fill="#78d3cd"/>
<circle cx="573.5" cy="395.9" r="2.15" fill="#78d3cd"/>
<circle cx="576.8" cy="395.9" r="2.15" fill="#78d3cd"/>
<circle cx="579" cy="395.9" r="2.15" fill="#78d3cd"/>
<circle cx="568.1" cy="398.1" r="2.15" fill="#78d3cd"/>
<circle cx="579" cy="398" r="2.15" fill="#78d3cd"/>
<circle cx="483.2" cy="402.0" r="2.15" fill="#ec977a"/>
<circle cx="485.4" cy="402.0" r="2.15" fill="#ec977a"/>
<circle cx="487.6" cy="402.0" r="2.15" fill="#ec977a"/>
<circle cx="489.8" cy="402.0" r="2.15" fill="#ec977a"/>
<circle cx="492.0" cy="402.0" r="2.15" fill="#ec977a"/>
<circle cx="494.2" cy="402.0" r="2.15" fill="#ec977a"/>
<circle cx="483.2" cy="406.0" r="2.15" fill="#ec977a"/>
<circle cx="485.4" cy="406.0" r="2.15" fill="#ec977a"/>
<circle cx="487.6" cy="406.0" r="2.15" fill="#ec977a"/>
<circle cx="489.8" cy="406.0" r="2.15" fill="#ec977a"/>
<circle cx="492.0" cy="406.0" r="2.15" fill="#ec977a"/>
<circle cx="494.2" cy="406.0" r="2.15" fill="#ec977a"/>
<circle cx="595.9" cy="299.1" r="2.15" fill="#ec977a"/>
<circle cx="595.9" cy="307.2" r="2.15" fill="#ec977a"/>
<circle cx="595.9" cy="331.5" r="2.15" fill="#ec977a"/>
<circle cx="595.9" cy="338.2" r="2.15" fill="#ec977a"/>
<circle cx="595.9" cy="344.4" r="2.15" fill="#ec977a"/>
<circle cx="595.8" cy="345.3" r="2.15" fill="#ec977a"/>
<circle cx="590.3" cy="360.8" r="2.15" fill="#ec977a"/>
<circle cx="595.8" cy="359.3" r="2.15" fill="#ec977a"/>
<circle cx="601.3" cy="361.1" r="2.15" fill="#ec977a"/>
<circle cx="590.3" cy="365.6" r="2.15" fill="#ec977a"/>
<circle cx="601.3" cy="369.4" r="2.15" fill="#ec977a"/>
<circle cx="590.3" cy="372.4" r="2.15" fill="#ec977a"/>
<circle cx="595.8" cy="375.4" r="2.15" fill="#ec977a"/>
<circle cx="590.3" cy="379.5" r="2.15" fill="#ec977a"/>
<circle cx="601.3" cy="379.5" r="2.15" fill="#ec977a"/>
<circle cx="595.8" cy="382.9" r="2.15" fill="#ec977a"/>
<circle cx="590.3" cy="388.5" r="2.15" fill="#ec977a"/>
<circle cx="601.3" cy="389" r="2.15" fill="#ec977a"/>
<circle cx="595.8" cy="391.2" r="2.15" fill="#ec977a"/>
<circle cx="590.3" cy="395" r="2.15" fill="#ec977a"/>
<circle cx="601.3" cy="395" r="2.15" fill="#ec977a"/>
<line x1="399.0" y1="400.3" x2="611" y2="400.3" stroke="#333" stroke-width="1"/>
<circle cx="650" cy="279.4" r="2.3" fill="#9d86d2"/>
<text x="665.6" y="283.4" font-size="11" fill="#1a1a1a">d0</text>
<circle cx="650" cy="298.4" r="2.3" fill="#5ecdf0"/>
<text x="665.6" y="302.4" font-size="11" fill="#1a1a1a">d14</text>
<circle cx="650" cy="318" r="2.3" fill="#78d3cd"/>
<text x="665.6" y="322" font-size="11" fill="#1a1a1a">d28</text>
<circle cx="650" cy="337" r="2.3" fill="#ec977a"/>
<text x="665.6" y="341" font-size="11" fill="#1a1a1a">d42</text>
</svg>
</body></html>
